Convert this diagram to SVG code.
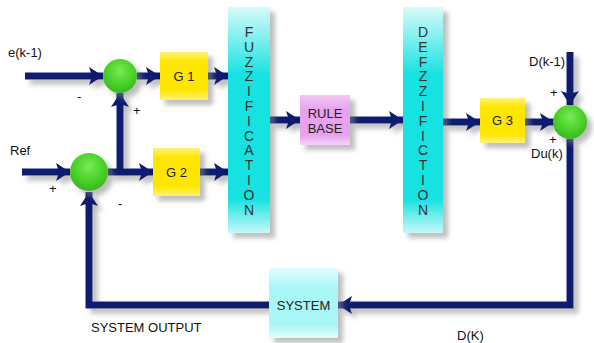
<svg xmlns="http://www.w3.org/2000/svg" width="594" height="343" viewBox="0 0 594 343">
<style>
text{font-family:"Liberation Sans",Arial,sans-serif;font-size:13px;fill:#222}
.lbl{fill:#111}
.v{font-size:14px;fill:#333;text-anchor:middle}
.c{text-anchor:middle}
.w{fill:none;stroke:#0b1a6e;stroke-width:7}
</style>
<defs>
<filter id="sh" x="-20%" y="-20%" width="150%" height="150%">
<feGaussianBlur in="SourceAlpha" stdDeviation="2.5"/>
<feOffset dx="5" dy="5" result="b"/>
<feFlood flood-color="#888" flood-opacity="0.55"/>
<feComposite in2="b" operator="in"/>
<feMerge><feMergeNode/><feMergeNode in="SourceGraphic"/></feMerge>
</filter>
<linearGradient id="gy" x1="0" y1="0" x2="0" y2="1">
<stop offset="0" stop-color="#fff27a"/><stop offset="0.2" stop-color="#ffe600"/><stop offset="0.8" stop-color="#ffe600"/><stop offset="1" stop-color="#fff27a"/>
</linearGradient>
<linearGradient id="gc" x1="0" y1="0" x2="0" y2="1">
<stop offset="0" stop-color="#d8fafa"/><stop offset="0.3" stop-color="#18e2e2"/><stop offset="0.85" stop-color="#18e2e2"/><stop offset="1" stop-color="#c8f8f8"/>
</linearGradient>
<linearGradient id="gs" x1="0" y1="0" x2="0" y2="1">
<stop offset="0" stop-color="#e4fcfc"/><stop offset="0.3" stop-color="#a8f6f6"/><stop offset="0.8" stop-color="#a8f6f6"/><stop offset="1" stop-color="#e4fcfc"/>
</linearGradient>
<linearGradient id="gp" x1="0" y1="0" x2="0" y2="1">
<stop offset="0" stop-color="#f2c8f6"/><stop offset="0.3" stop-color="#e6a2ee"/><stop offset="0.8" stop-color="#e6a2ee"/><stop offset="1" stop-color="#f4d4f8"/>
</linearGradient>
<radialGradient id="gg" cx="0.5" cy="0.35" r="0.6">
<stop offset="0" stop-color="#7ae85a"/><stop offset="0.6" stop-color="#4cd42a"/><stop offset="1" stop-color="#3cbc22"/>
</radialGradient>
<marker id="ah" markerUnits="userSpaceOnUse" markerWidth="16" markerHeight="18" refX="14" refY="9" orient="auto">
<path d="M0 0 L14 9 L0 18 L3 9 Z" fill="#0b1a6e"/>
</marker>
</defs>

<g id="connectors" filter="url(#sh)">
<path class="w" d="M25 76 H103" marker-end="url(#ah)"/>
<path class="w" d="M137 76 H160" marker-end="url(#ah)"/>
<path class="w" d="M208 76 H228" marker-end="url(#ah)"/>
<path class="w" d="M22 172 H70" marker-end="url(#ah)"/>
<path class="w" d="M108 172 H153" marker-end="url(#ah)"/>
<path class="w" d="M200 172 H228" marker-end="url(#ah)"/>
<path class="w" d="M120 172 V93" marker-end="url(#ah)"/>
<path class="w" d="M270 120 H300" marker-end="url(#ah)"/>
<path class="w" d="M350 120 H403" marker-end="url(#ah)"/>
<path class="w" d="M443 122 H480" marker-end="url(#ah)"/>
<path class="w" d="M525 122 H554" marker-end="url(#ah)"/>
<path class="w" d="M570 52 V105" marker-end="url(#ah)"/>
<path class="w" d="M570 139 V305 H338" marker-end="url(#ah)"/>
<path class="w" d="M269 305 H89 V192" marker-end="url(#ah)"/>
</g>

<g id="sum1" filter="url(#sh)"><circle cx="120" cy="76" r="17" fill="url(#gg)"/></g>
<g id="sum2" filter="url(#sh)"><circle cx="89" cy="172" r="19" fill="url(#gg)"/></g>
<g id="sum3" filter="url(#sh)"><circle cx="570" cy="122" r="17" fill="url(#gg)"/></g>

<g id="g1"><rect x="160" y="52" width="48" height="48" fill="url(#gy)" filter="url(#sh)"/><text class="c" x="184" y="81">G 1</text></g>
<g id="g2"><rect x="153" y="148" width="47" height="48" fill="url(#gy)" filter="url(#sh)"/><text class="c" x="176.5" y="177">G 2</text></g>
<g id="g3"><rect x="480" y="98" width="45" height="45" fill="url(#gy)" filter="url(#sh)"/><text class="c" x="502.5" y="125">G 3</text></g>

<g id="fuzz"><rect x="228" y="7" width="42" height="226" fill="url(#gc)" filter="url(#sh)"/>
<text class="v" x="249"><tspan x="249" y="37">F</tspan><tspan x="249" dy="14.8">U</tspan><tspan x="249" dy="14.8">Z</tspan><tspan x="249" dy="14.8">Z</tspan><tspan x="249" dy="14.8">I</tspan><tspan x="249" dy="14.8">F</tspan><tspan x="249" dy="14.8">I</tspan><tspan x="249" dy="14.8">C</tspan><tspan x="249" dy="14.8">A</tspan><tspan x="249" dy="14.8">T</tspan><tspan x="249" dy="14.8">I</tspan><tspan x="249" dy="14.8">O</tspan><tspan x="249" dy="14.8">N</tspan></text></g>

<g id="rule"><rect x="300" y="95" width="50" height="50" fill="url(#gp)" filter="url(#sh)"/>
<text class="c" x="325" y="118">RULE</text><text class="c" x="325" y="133">BASE</text></g>

<g id="defuzz"><rect x="403" y="7" width="40" height="226" fill="url(#gc)" filter="url(#sh)"/>
<text class="v" x="423"><tspan x="423" y="37">D</tspan><tspan x="423" dy="14.8">E</tspan><tspan x="423" dy="14.8">F</tspan><tspan x="423" dy="14.8">Z</tspan><tspan x="423" dy="14.8">Z</tspan><tspan x="423" dy="14.8">I</tspan><tspan x="423" dy="14.8">F</tspan><tspan x="423" dy="14.8">I</tspan><tspan x="423" dy="14.8">C</tspan><tspan x="423" dy="14.8">T</tspan><tspan x="423" dy="14.8">I</tspan><tspan x="423" dy="14.8">O</tspan><tspan x="423" dy="14.8">N</tspan></text></g>

<g id="system"><rect x="269" y="268" width="69" height="70" fill="url(#gs)" filter="url(#sh)"/>
<text class="c" x="303.5" y="310">SYSTEM</text></g>

<g id="labels">
<text class="lbl" x="8" y="57">e(k-1)</text>
<text class="lbl" x="10" y="155">Ref</text>
<text class="lbl" x="529" y="66">D(k-1)</text>
<text class="lbl" x="531" y="158">Du(k)</text>
<text class="lbl" x="91" y="332">SYSTEM OUTPUT</text>
<text class="lbl" x="457" y="340">D(K)</text>
<text class="lbl" x="77" y="101">-</text>
<text class="lbl" x="133" y="115">+</text>
<text class="lbl" x="49" y="193">+</text>
<text class="lbl" x="118" y="208">-</text>
<text class="lbl" x="550" y="97">+</text>
<text class="lbl" x="549" y="144">+</text>
</g>
</svg>
